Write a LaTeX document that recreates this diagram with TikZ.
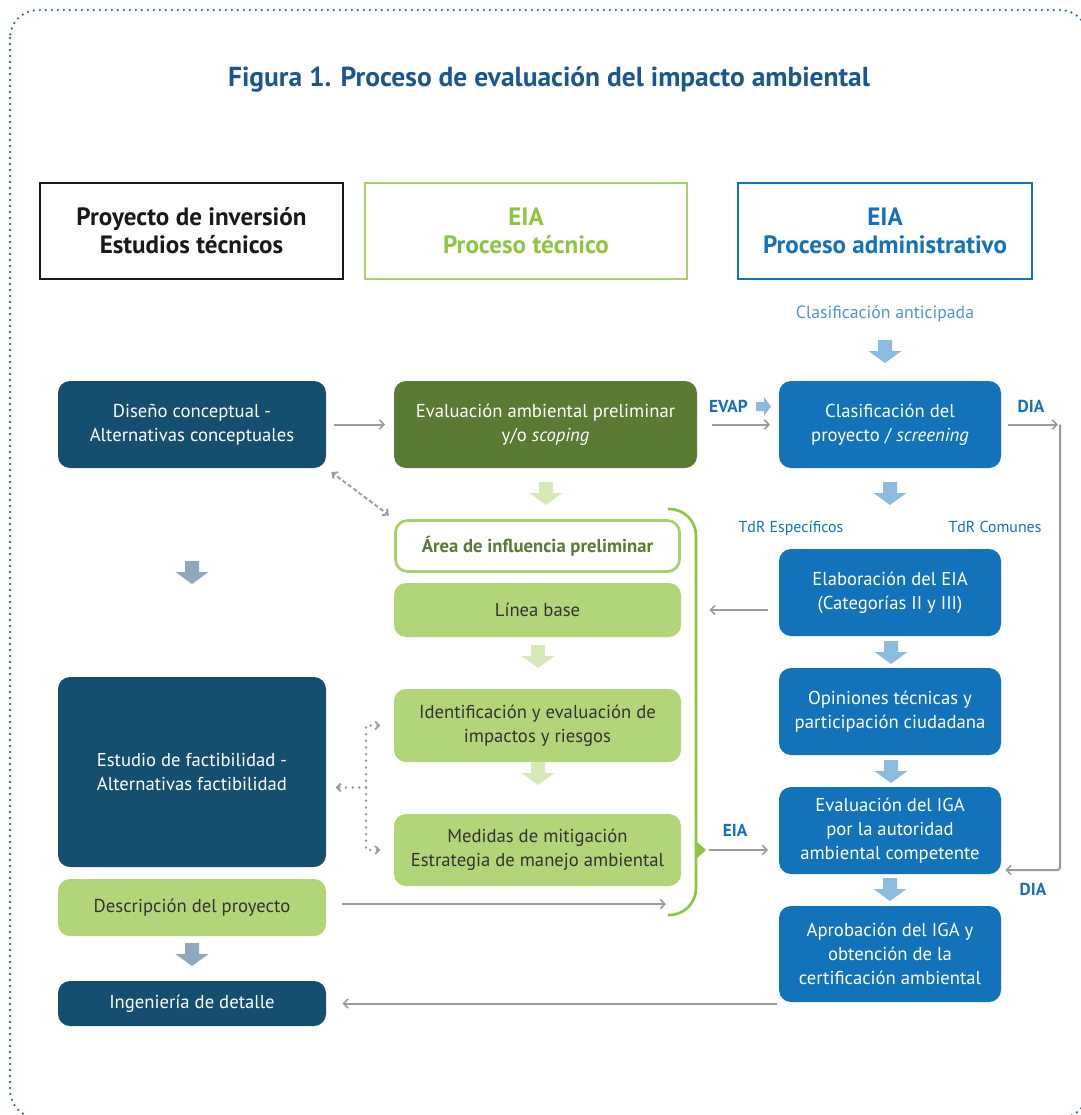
\documentclass[tikz,border=0pt]{standalone}
\usepackage{fontspec}
\setmainfont{PT Sans}
\usetikzlibrary{arrows.meta,calc}
\definecolor{cDark}{HTML}{154F70}
\definecolor{cGreenD}{HTML}{5B7A34}
\definecolor{cGreenL}{HTML}{B3D57A}
\definecolor{cGreenB}{HTML}{AAD06C}
\definecolor{cBr}{HTML}{8DC63F}
\definecolor{cBlue}{HTML}{1373BA}
\definecolor{cBlueT}{HTML}{1570BA}
\definecolor{cBlueA}{HTML}{4E96D1}
\definecolor{cArB}{HTML}{8CBBE0}
\definecolor{cArS}{HTML}{8DA9BD}
\definecolor{cArG}{HTML}{D7E8B9}
\definecolor{cGray}{HTML}{9B9B9B}
\definecolor{cText}{HTML}{333333}
\definecolor{cTitle}{HTML}{1B5694}
\definecolor{cDots}{HTML}{2F6AA8}
\newcommand\boxfont{\fontsize{14pt}{18pt}\selectfont}
\newcommand\headfont{\fontsize{18.8pt}{21pt}\selectfont\bfseries}
\newcommand\labfont{\fontsize{11.9pt}{13pt}\selectfont}
\def\px{0.75pt}
\newcommand\downarr[2]{\fill[#1] ([shift={(-7,0)}]#2) -- ([shift={(7,0)}]#2) -- ([shift={(7,11)}]#2) -- ([shift={(16.5,11)}]#2) -- ([shift={(0,23)}]#2) -- ([shift={(-16.5,11)}]#2) -- ([shift={(-7,11)}]#2) -- cycle;}
\begin{document}
\begin{tikzpicture}[x=0.75pt,y=-0.75pt,
  bx/.style={rounded corners=9pt, inner sep=0pt, align=center, font=\boxfont},
  dk/.style={bx, fill=cDark, text=white},
  gd/.style={bx, fill=cGreenD, text=white},
  gl/.style={bx, fill=cGreenL, text=cText},
  bl/.style={bx, fill=cBlue, text=white},
  hd/.style={inner sep=0pt, align=center, font=\headfont, line width=1.5pt},
  conn/.style={draw=cGray, line width=1.5pt, -{Straight Barb[length=3.5pt,width=7pt,line width=1.2pt]}},
  dotc/.style={draw=cGray, line width=2.1pt, dash pattern=on 0pt off 5pt, line cap=round},
  dtip/.style={-{Straight Barb[length=3pt,width=6pt,line width=1.4pt]}},
  lab/.style={font=\labfont, text=cBlueT, anchor=base, inner sep=0pt},
  blab/.style={font=\fontsize{13pt}{14pt}\selectfont\bfseries, text=cBlueT, anchor=base, inner sep=0pt}
]
\useasboundingbox (0,0) rectangle (1081,1115);
\begin{scope}
\clip (0,0) rectangle (1081,1115);
\draw[cDots, line width=1.9pt, dash pattern=on 0pt off 4.5pt, line cap=round, rounded corners=21pt] (10,10) rectangle (1088,1118);
\end{scope}

% title
\node[anchor=base, inner sep=0pt, text=cTitle, font=\fontsize{20.6pt}{24pt}\selectfont\bfseries] (title) at (549,86) {Figura 1. Proceso de evaluación del impacto ambiental};

% headers
\node[hd, draw=black!90, text=black!90, minimum width=303*\px, minimum height=96*\px] (h1) at (191.5,231) {Proyecto de inversión\\Estudios técnicos};
\node[hd, draw=cGreenB, text=cBr, minimum width=322*\px, minimum height=96*\px] (h2) at (526,231) {EIA\\Proceso técnico};
\node[hd, draw=cBlue, text=cBlue, minimum width=294*\px, minimum height=96*\px] (h3) at (885,231) {EIA\\Proceso administrativo};

% labels
\node[lab, text=cBlueA, font=\fontsize{13.3pt}{15pt}\selectfont] (anticip) at (885,318) {Clasificación anticipada};
\node[blab] (evap) at (728.5,412) {EVAP};
\node[blab] (dia1) at (1031,412) {DIA};
\node[lab] (tdre) at (791,532) {TdR Específicos};
\node[lab] (tdrc) at (995,532) {TdR Comunes};
\node[blab] (eial) at (735,836) {EIA};
\node[blab] (dia2) at (1033,895) {DIA};

% row 1
\node[dk, minimum width=268*\px, minimum height=87*\px] (dis) at (192,424.5) {Diseño conceptual -\\Alternativas conceptuales};
\node[gd, minimum width=303*\px, minimum height=87*\px] (eap) at (545.5,424.5) {Evaluación ambiental preliminar\\y/o \textit{scoping}};
\node[bl, minimum width=222*\px, minimum height=87*\px] (clas) at (890,424.5) {Clasificación del\\proyecto / \textit{screening}};

% green column
\node[bx, draw=cGreenB, line width=2pt, fill=white, text=cGreenD, font=\boxfont\bfseries, minimum width=284*\px, minimum height=51*\px] (area) at (537.5,546) {Área de influencia preliminar};
\node[gl, minimum width=287*\px, minimum height=54*\px] (lin) at (537.5,610) {Línea base};
\node[gl, minimum width=287*\px, minimum height=73*\px] (ident) at (537.5,725.5) {Identificación y evaluación de\\impactos y riesgos};
\node[gl, minimum width=287*\px, minimum height=72*\px] (med) at (537.5,850) {Medidas de mitigación\\Estrategia de manejo ambiental};

% left column
\node[dk, minimum width=268*\px, minimum height=190*\px] (est) at (192,772) {Estudio de factibilidad -\\Alternativas factibilidad};
\node[gl, minimum width=268*\px, minimum height=57*\px] (desc) at (192,907.5) {Descripción del proyecto};
\node[dk, minimum width=268*\px, minimum height=45*\px] (ing) at (192,1003.5) {Ingeniería de detalle};

% right column
\node[bl, minimum width=222*\px, minimum height=87*\px] (elab) at (890,592.5) {Elaboración del EIA\\(Categorías II y III)};
\node[bl, minimum width=222*\px, minimum height=87*\px] (opin) at (890,711.5) {Opiniones técnicas y\\participación ciudadana};
\node[bl, minimum width=222*\px, minimum height=87*\px] (eval) at (890,830.5) {Evaluación del IGA\\por la autoridad\\ambiental competente};
\node[bl, minimum width=222*\px, minimum height=96*\px] (aprob) at (890,954) {Aprobación del IGA y\\obtención de la\\certificación ambiental};

% block arrows
\coordinate (a0) at (885,340);
\coordinate (a1) at (546,482);
\coordinate (a2) at (890,482);
\coordinate (a3) at (192,561);
\coordinate (a4) at (538,645);
\coordinate (a5) at (538,762);
\coordinate (a6) at (891,641);
\coordinate (a7) at (891,760);
\coordinate (a8) at (890,878);
\coordinate (a9) at (192,943);
\downarr{cArB}{a0}
\downarr{cArG}{a1}
\downarr{cArB}{a2}
\downarr{cArS}{a3}
\downarr{cArG}{a4}
\downarr{cArG}{a5}
\downarr{cArB}{a6}
\downarr{cArB}{a7}
\downarr{cArB}{a8}
\downarr{cArS}{a9}
% small EVAP arrow
\fill[cArB] (756,402) -- (764,402) -- (764,397) -- (771,406.5) -- (764,416) -- (764,411) -- (756,411) -- cycle;

% bracket
\coordinate (bkT) at (668,509);
\coordinate (bkB) at (668,915);
\draw[cBr, line width=2pt, rounded corners=20pt] (bkT) -- (696,509) -- (696,915) -- (bkB);
\fill[cBr] (695,840) -- (706,850) -- (695,860) -- cycle;

% connectors
\draw[conn, shorten <=6pt, shorten >=6.5pt] (dis.east) -- (eap.west);
\draw[conn, shorten <=11pt, shorten >=6.5pt] (eap.east) -- (clas.west);
\coordinate (diaT) at (1060,424.5);
\coordinate (diaB) at (1060,870);
\draw[conn, shorten <=5pt, shorten >=1.5pt] (clas.east) -- (diaT);
\draw[conn, shorten >=3pt, rounded corners=2pt] (diaT) -- (diaB) -- (eval.east |- diaB);
\draw[conn, shorten <=8pt, shorten >=21pt] (elab.west |- lin.east) -- (lin.east);
\draw[conn, shorten <=21pt, shorten >=8pt] (med.east) -- (eval.west |- med.east);
\coordinate (descE) at (666,904);
\draw[conn, shorten <=12pt] (desc.east |- descE) -- (descE);
\draw[conn, shorten <=1pt, shorten >=12pt] (aprob.west |- ing.east) -- (ing.east);

% dotted connectors
\draw[dotc, dtip, shorten <=6pt, shorten >=5pt] (dis.south east) -- (area.north west);
\draw[dotc, dtip, shorten <=6pt, shorten >=5pt] (area.north west) -- (dis.south east);
\coordinate (dm) at (366,787.5);
\draw[dotc, dtip, shorten >=10pt] (dm) |- (ident.west);
\draw[dotc, dtip, shorten >=10pt] (dm) |- (med.west);
\draw[dotc, dtip, shorten >=7pt] (dm) -- (est.east |- dm);
\end{tikzpicture}
\end{document}
